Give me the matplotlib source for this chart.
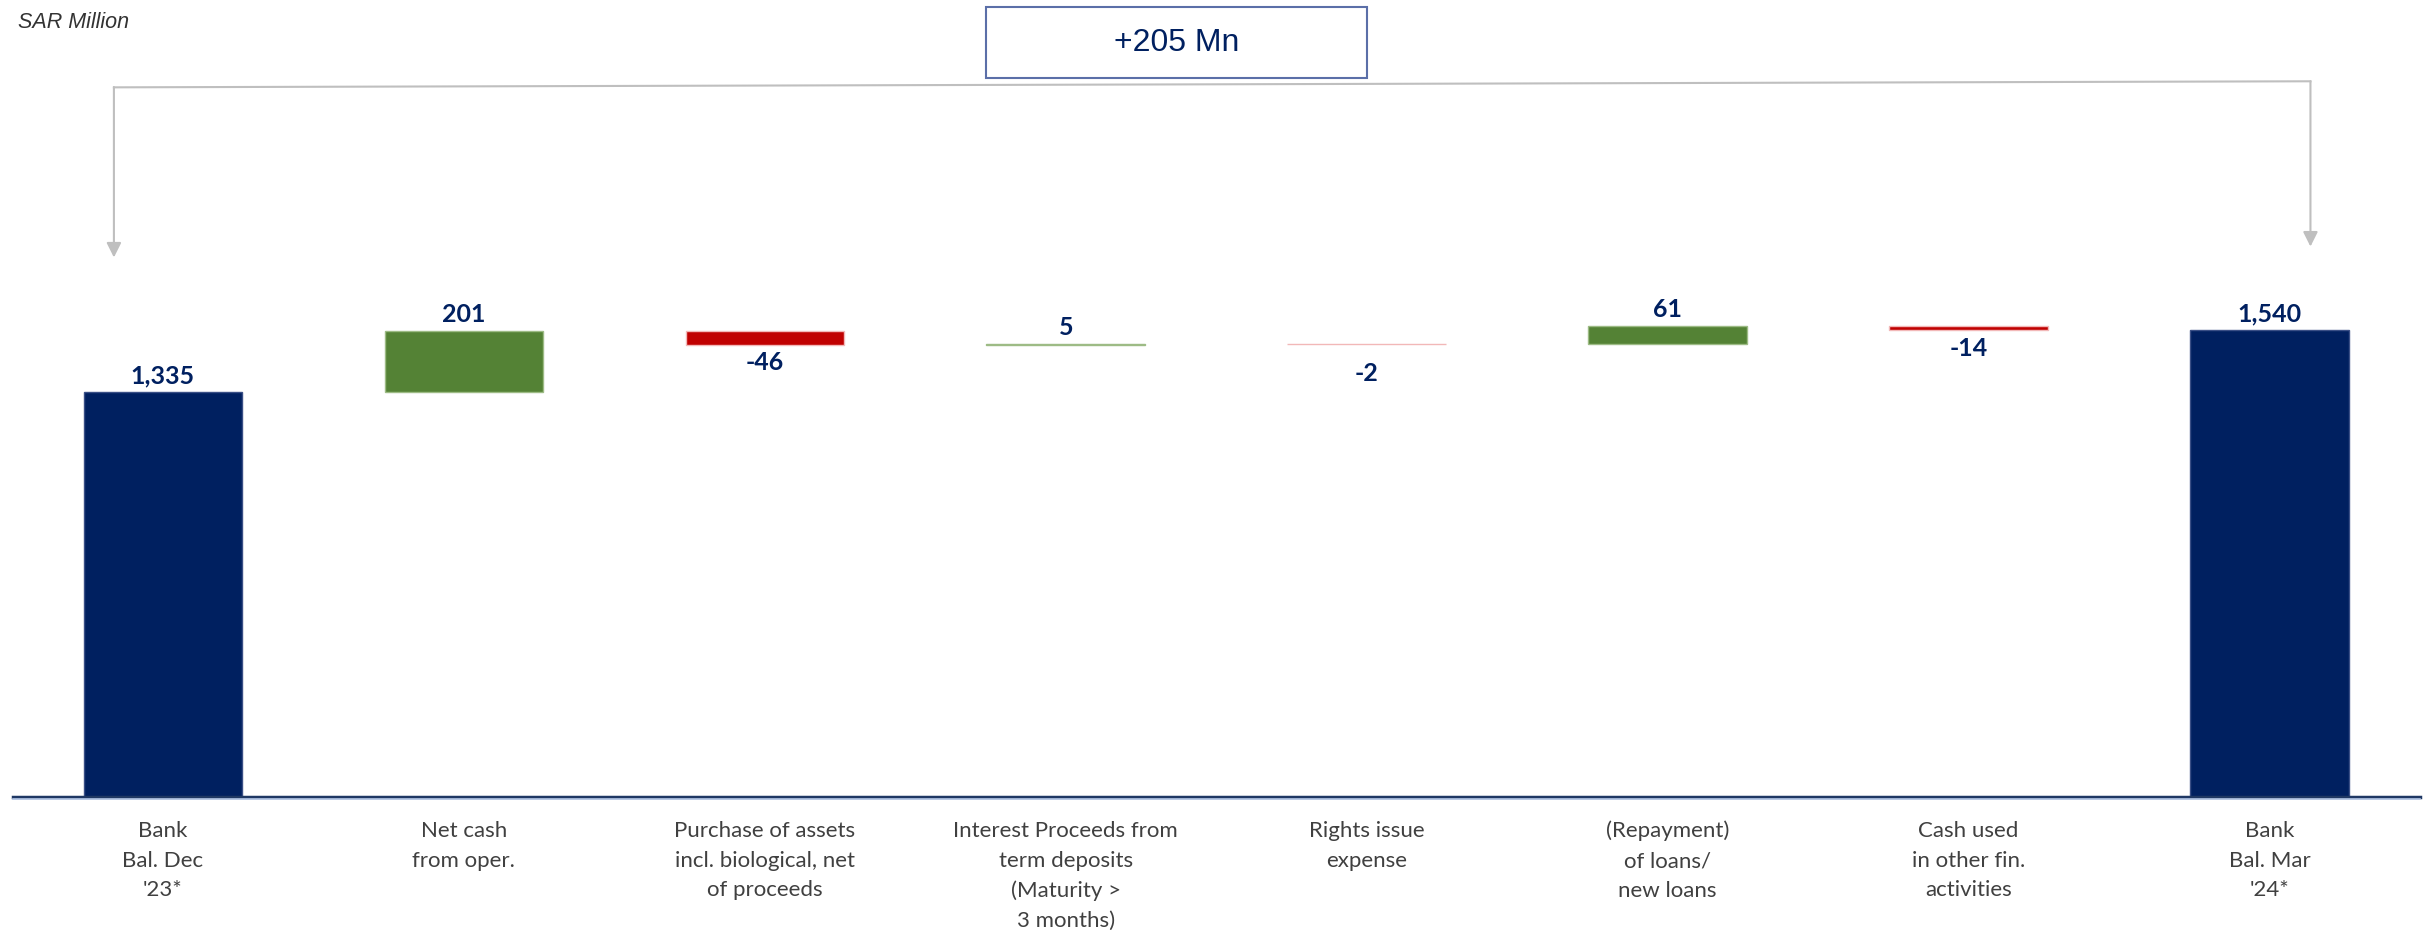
import matplotlib
matplotlib.use("Agg")
import matplotlib.pyplot as plt
from matplotlib.patches import Rectangle

# waterfall data (SAR Million)
categories = ["Bank\nBal. Dec\n'23*", "Net cash\nfrom oper.",
              "Purchase of assets\nincl. biological, net\nof proceeds",
              "Interest Proceeds from\nterm deposits\n(Maturity >\n3 months)",
              "Rights issue\nexpense", "(Repayment)\nof loans/\nnew loans",
              "Cash used\nin other fin.\nactivities", "Bank\nBal. Mar\n'24*"]
values = [1335, 201, -46, 5, -2, 61, -14, 1540]
is_total = [True, False, False, False, False, False, False, True]
change_label = "+205 Mn"
unit_label = "SAR Million"

navy = "#002060"
green = "#548235"
red = "#C00000"
grey_txt = "#404040"
lbl_font = ["Lato", "DejaVu Sans"]

fig = plt.figure(figsize=(24.23, 9.30), dpi=100)
ax = fig.add_axes([0.00516, 0.143, 0.9936, 0.857])

x = list(range(len(values)))
bottoms, heights, colors, edges = [], [], [], []
running = 0
for v, tot in zip(values, is_total):
    if tot:
        bottoms.append(0)
        heights.append(v)
        colors.append(navy)
        edges.append("#3A4F86")
        running = v
    else:
        bottoms.append(running if v >= 0 else running + v)
        heights.append(abs(v))
        colors.append(green if v >= 0 else red)
        edges.append("#9DBB85" if v >= 0 else "#F2B8B8")
        running += v

ax.bar(x, heights, bottom=bottoms, width=0.527, color=colors,
       edgecolor=edges, linewidth=1)

# extra gap under the tiny "-2" label, as in the source slide
label_gap = [16, 16, 20, 16, 60, 16, 22, 16]
for xi, v, b, h, g in zip(x, values, bottoms, heights, label_gap):
    txt = f"{v:,}"
    if v >= 0:
        ax.text(xi, b + h + g, txt, ha="center", va="bottom", fontsize=18,
                fontweight="bold", color=navy, family=lbl_font)
    else:
        ax.text(xi, b - g, txt, ha="center", va="top", fontsize=18,
                fontweight="bold", color=navy, family=lbl_font)

ax.set_xlim(-0.5, 7.5)
ax.set_ylim(0, 2628)
ax.set_xticks(x)
ax.set_xticklabels(categories, fontsize=16, color=grey_txt, family=lbl_font,
                   linespacing=1.62, va="top")
ax.tick_params(axis="x", length=0, pad=17)
ax.set_yticks([])
for s in ["top", "right", "left", "bottom"]:
    ax.spines[s].set_visible(False)
ax.axhline(0, color="#1F3864", lw=2.5, clip_on=False, zorder=3)
ax.axhline(-7, color="#B4C7E7", lw=1.2, clip_on=False, zorder=3)

# bracket showing the net change between the two balances
gray = "#BFBFBF"
ax.plot([-0.163, 7.136], [2340, 2360], color=gray, lw=1.5, clip_on=False)
ax.annotate("", xy=(-0.163, 1779), xytext=(-0.163, 2341),
            arrowprops=dict(arrowstyle="-|>", color=gray, lw=1.5,
                            mutation_scale=22, shrinkA=0, shrinkB=0),
            annotation_clip=False)
ax.annotate("", xy=(7.136, 1815), xytext=(7.136, 2360),
            arrowprops=dict(arrowstyle="-|>", color=gray, lw=1.5,
                            mutation_scale=22, shrinkA=0, shrinkB=0),
            annotation_clip=False)
ax.add_patch(Rectangle((2.734, 2370), 1.266, 234, facecolor="white",
                       edgecolor="#5B6FA8", lw=1.5, clip_on=False, zorder=4))
ax.text(3.367, 2487, change_label, ha="center", va="center", fontsize=23,
        color=navy, family="Liberation Sans", zorder=5)

fig.text(18 / 2423, 1 - 12 / 930, unit_label, ha="left", va="top",
         fontsize=15.5, style="italic", color="#333333", family="Liberation Sans")

fig.savefig("out.png", dpi=100)
